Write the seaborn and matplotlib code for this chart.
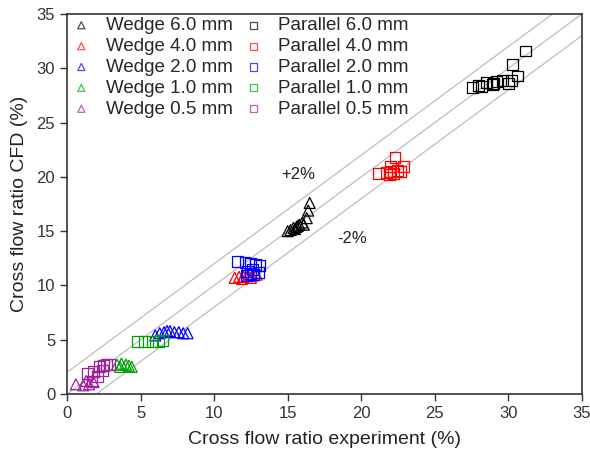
import numpy as np
import pandas as pd
import matplotlib
matplotlib.use("Agg")
import matplotlib.pyplot as plt
import seaborn as sns

# ---- data ----
p60_x = [31.2, 30.3, 30.6, 30.0, 29.2, 28.5, 28.0, 27.6, 28.2, 28.9, 29.6, 30.2, 29.0]
p60_y = [31.6, 30.4, 29.3, 28.6, 28.8, 28.7, 28.4, 28.2, 28.3, 28.5, 28.9, 28.9, 28.6]
p40_x = [22.3, 22.0, 22.9, 22.7, 21.2, 21.7, 22.0, 22.2, 22.5, 21.9]
p40_y = [21.8, 21.0, 21.0, 20.5, 20.3, 20.4, 20.5, 20.3, 20.6, 20.2]
w60_x = [16.5, 16.4, 16.3, 16.0, 15.8, 15.6, 15.4, 15.2, 15.0, 15.5, 15.7, 16.1]
w60_y = [17.6, 16.9, 16.2, 15.8, 15.6, 15.4, 15.3, 15.1, 15.0, 15.2, 15.5, 15.6]
p20_x = [11.6, 12.1, 12.5, 12.8, 13.1, 12.3, 12.5, 12.7, 12.2, 12.6, 13.0]
p20_y = [12.2, 12.1, 12.0, 11.9, 11.8, 11.3, 11.1, 11.0, 10.9, 11.5, 11.2]
w40_x = [11.4, 11.7, 12.0, 12.3, 12.6, 12.9, 12.5, 11.9]
w40_y = [10.7, 10.8, 10.8, 10.9, 10.9, 11.0, 10.7, 10.6]
w20_x = [6.0, 6.3, 6.6, 7.0, 7.3, 7.6, 7.9, 8.2, 6.8]
w20_y = [5.4, 5.6, 5.7, 5.8, 5.7, 5.7, 5.6, 5.6, 5.8]
p10_x = [4.8, 5.3, 5.8, 6.2, 6.5]
p10_y = [4.8, 4.8, 4.8, 4.8, 4.9]
w10_x = [3.4, 3.7, 4.0, 4.2, 3.6, 4.4]
w10_y = [2.7, 2.8, 2.7, 2.6, 2.5, 2.5]
p05_x = [1.4, 1.8, 2.2, 2.5, 2.7, 2.9, 2.4, 1.7, 2.1]
p05_y = [1.9, 2.1, 2.5, 2.6, 2.7, 2.7, 2.2, 1.2, 1.6]
w05_x = [0.6, 1.1, 1.5, 1.8, 1.3]
w05_y = [0.9, 0.8, 0.9, 1.1, 1.2]

gaps = ["6.0", "4.0", "2.0", "1.0", "0.5"]
colors = ["#000000", "#FF0000", "#0000FF", "#00A000", "#A020A0"]
wedge = [(w60_x, w60_y), (w40_x, w40_y), (w20_x, w20_y), (w10_x, w10_y), (w05_x, w05_y)]
parallel = [(p60_x, p60_y), (p40_x, p40_y), (p20_x, p20_y), (p10_x, p10_y), (p05_x, p05_y)]

rows = []
for g, (xs, ys) in zip(gaps, wedge):
    for a, b in zip(xs, ys):
        rows.append(dict(exp=a, cfd=b, series=f"Wedge {g} mm", kind="Wedge"))
for g, (xs, ys) in zip(gaps, parallel):
    for a, b in zip(xs, ys):
        rows.append(dict(exp=a, cfd=b, series=f"Parallel {g} mm", kind="Parallel"))
df = pd.DataFrame(rows)

order = [f"Wedge {g} mm" for g in gaps] + [f"Parallel {g} mm" for g in gaps]
palette = {**{f"Wedge {g} mm": c for g, c in zip(gaps, colors)},
           **{f"Parallel {g} mm": c for g, c in zip(gaps, colors)}}

sns.set_theme(style="white")
plt.rcParams["font.family"] = ["Liberation Sans", "DejaVu Sans"]

fig = plt.figure(figsize=(5.9, 4.55), dpi=100)
ax = fig.add_axes([0.1136, 0.134, 0.8724, 0.835])

# reference lines y = x, y = x +/- 2
lx = np.array([0, 35])
for off in (0, 2, -2):
    ax.plot(lx, lx + off, color="#bdbdbd", lw=0.9, zorder=1)

for s in order:
    sub = df[df.series == s]
    mk = "^" if s.startswith("Wedge") else "s"
    sns.scatterplot(data=sub, x="exp", y="cfd", ax=ax, marker=mk, s=62,
                    facecolors="none", edgecolor=palette[s], linewidth=0.9,
                    label=s, zorder=3)

ax.set_xlim(0, 35)
ax.set_ylim(0, 35)
ax.set_xticks(range(0, 36, 5))
ax.set_yticks(range(0, 36, 5))
ax.set_xlabel("Cross flow ratio experiment (%)", fontsize=14, color="#222222", labelpad=7)
ax.set_ylabel("Cross flow ratio CFD (%)", fontsize=14, color="#222222", labelpad=6)
ax.tick_params(axis="both", direction="out", length=5, width=1,
               labelsize=12, colors="#333333", bottom=True, left=True)
for sp in ax.spines.values():
    sp.set_color("#333333")
    sp.set_linewidth(1.2)

ax.text(14.6, 19.8, "+2%", fontsize=12, color="#222222")
ax.text(18.4, 13.9, "-2%", fontsize=12, color="#222222")

handles, labels = ax.get_legend_handles_labels()
leg = ax.legend(handles, labels, ncol=2, loc="upper left", frameon=False,
                fontsize=13.5, markerscale=0.65, handlelength=1.0,
                handletextpad=0.8, columnspacing=0.6,
                labelspacing=0.2, borderaxespad=0.0, bbox_to_anchor=(-0.005, 1.012))
for h in leg.legend_handles:
    h.set_alpha(0.7)

fig.savefig("out.png", dpi=100)
